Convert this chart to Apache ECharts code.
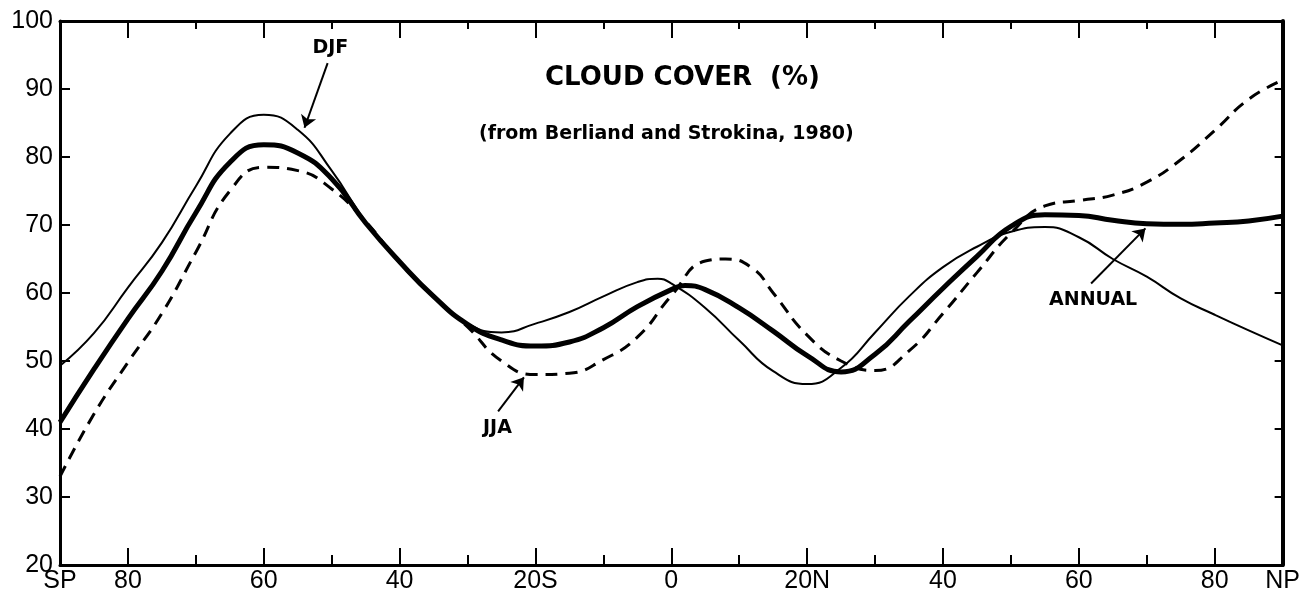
<!DOCTYPE html>
<html>
<head>
<meta charset="utf-8">
<script src="https://cdn.jsdelivr.net/npm/echarts@6/dist/echarts.min.js"></script>
<style>
html,body{margin:0;padding:0;background:#fff;}
#chart{width:1303px;height:595px;}
</style>
</head>
<body>
<div id="chart"></div>
<script>
// Latitude (negative = south) and cloud cover (%)
var djfLat = [-90,-85,-80,-75,-70,-65,-60,-55,-50,-45,-40,-35,-30,-25,-20,-15,-10,-5,-2,0,5,10,15,20,25,30,35,40,45,50,55,60,65,70,75,80,85,90];
var djfVal = [49.3,54.1,60.8,67.4,75.7,83.4,86.2,84.0,78.0,70.5,64.6,59.5,55.5,54.2,55.5,57.2,59.5,61.6,62.1,61.4,57.8,53.0,48.5,46.6,49.0,54.2,59.5,63.8,66.8,69.0,69.7,68.2,65.0,62.4,59.2,56.8,54.5,52.3];

var annLat = [-90,-85,-80,-75,-70,-65,-60,-55,-50,-45,-40,-35,-30,-25,-20,-15,-10,-5,0,2,5,10,15,20,25,30,35,40,45,50,55,60,65,70,75,80,85,90];
var annVal = [41.0,48.8,56.2,63.2,71.8,79.2,81.8,80.6,76.8,70.3,64.6,59.5,55.4,53.1,52.2,52.8,54.9,58.0,60.5,61.1,60.5,57.8,54.4,50.8,48.4,51.0,55.8,60.7,65.4,69.8,71.5,71.4,70.7,70.2,70.1,70.3,70.6,71.3];

var jjaLat = [-90,-85,-80,-75,-70,-65,-60,-55,-50,-45,-40,-35,-30,-25,-20,-15,-10,-5,0,5,8,12,15,20,25,30,35,40,45,50,55,60,65,70,75,80,85,90];
var jjaVal = [33.0,42.2,49.8,57.0,66.0,75.0,78.5,78.0,75.3,70.5,64.5,59.5,55.0,50.0,48.0,48.2,50.2,53.5,59.6,64.7,65.0,63.6,60.0,53.8,50.0,48.6,51.5,57.0,63.0,68.8,72.8,73.6,74.4,76.3,79.6,83.9,88.5,91.3];

var yTicks = [20,30,40,50,60,70,80,90,100];
var xLabelValues = [-90,-80,-60,-40,-20,0,20,40,60,80,90];
var xLabelText = ['SP','80','60','40','20S','0','20N','40','60','80','NP'];
var xMajorTicks = [-80,-60,-40,-20,0,20,40,60,80];
var xMinorTicks = [-70,-50,-30,-10,10,30,50,70];

var titleText = 'CLOUD COVER  (%)';
var subtitleText = '(from Berliand and Strokina, 1980)';

// annotation label positions and arrows, in data coordinates [lat, value]
var djfNote = {text:'DJF', at:[-50.2,96.0], from:[-50.6,93.8], to:[-54.0,84.3]};
var jjaNote = {text:'JJA', at:[-25.6,40.2], from:[-25.5,42.6], to:[-21.7,47.6]};
var annNote = {text:'ANNUAL', at:[62.1,58.9], from:[61.8,61.4], to:[69.8,69.5]};

function zip(a,b){return a.map(function(v,i){return [v,b[i]];});}

var axisFont = {fontFamily:'Liberation Sans', fontSize:25, color:'#000'};
var lineStyleAxis = {color:'#000', width:3};

function note(n){
  return {
    markLine:{
      silent:true, symbol:['none','arrow'], symbolSize:12,
      lineStyle:{color:'#000', width:2, type:'solid'},
      label:{show:false},
      data:[[{coord:n.from},{coord:n.to}]]
    },
    markPoint:{
      silent:true, symbol:'circle', symbolSize:0,
      label:{show:true, formatter:n.text, color:'#000', fontFamily:'DejaVu Sans', fontWeight:'bold', fontSize:19, position:'inside'},
      data:[{coord:n.at}]
    }
  };
}

var chart = echarts.init(document.getElementById('chart'), null, {renderer:'canvas'});

var sDJF = Object.assign({
  name:'DJF', type:'line', smooth:0.5, symbol:'none', data:zip(djfLat,djfVal),
  lineStyle:{color:'#000', width:2}, z:3
}, note(djfNote));
var sANN = Object.assign({
  name:'ANNUAL', type:'line', smooth:0.5, symbol:'none', data:zip(annLat,annVal),
  lineStyle:{color:'#000', width:5}, z:4
}, note(annNote));
var sJJA = Object.assign({
  name:'JJA', type:'line', smooth:0.5, symbol:'none', data:zip(jjaLat,jjaVal),
  lineStyle:{color:'#000', width:3, type:[12,8]}, z:2
}, note(jjaNote));

chart.setOption({
  backgroundColor:'#fff',
  animation:false,
  title:[
    {text:titleText, left:540, top:60, textStyle:{fontFamily:'DejaVu Sans', fontWeight:'bold', fontSize:26, color:'#000'}},
    {text:subtitleText, left:474, top:120, textStyle:{fontFamily:'DejaVu Sans', fontWeight:'bold', fontSize:19, color:'#000'}}
  ],
  grid:{left:60, right:14, top:21, bottom:30, containLabel:false},
  xAxis:[
    {type:'value', min:-90, max:90, position:'bottom',
     axisLine:{show:true, onZero:false, lineStyle:lineStyleAxis},
     axisTick:{show:true, inside:true, length:17, lineStyle:{color:'#000', width:2}, customValues:xMajorTicks},
     axisLabel:Object.assign({show:true, margin:4, customValues:xLabelValues,
       formatter:function(v){var i=xLabelValues.indexOf(v);return i>=0?xLabelText[i]:'';}}, axisFont),
     splitLine:{show:false}},
    {type:'value', min:-90, max:90, position:'bottom',
     axisLine:{show:false, onZero:false},
     axisTick:{show:true, inside:true, length:10, lineStyle:{color:'#000', width:2}, customValues:xMinorTicks},
     axisLabel:{show:false}, splitLine:{show:false}},
    {type:'value', min:-90, max:90, position:'top',
     axisLine:{show:true, onZero:false, lineStyle:lineStyleAxis},
     axisTick:{show:true, inside:true, length:17, lineStyle:{color:'#000', width:2}, customValues:xMajorTicks},
     axisLabel:{show:false}, splitLine:{show:false}},
    {type:'value', min:-90, max:90, position:'top',
     axisLine:{show:false, onZero:false},
     axisTick:{show:true, inside:true, length:8, lineStyle:{color:'#000', width:2}, customValues:xMinorTicks},
     axisLabel:{show:false}, splitLine:{show:false}}
  ],
  yAxis:[
    {type:'value', min:20, max:100, interval:10, position:'left',
     axisLine:{show:true, onZero:false, lineStyle:lineStyleAxis},
     axisTick:{show:true, inside:true, length:10, lineStyle:{color:'#000', width:2}},
     axisLabel:Object.assign({show:true, margin:7}, axisFont),
     splitLine:{show:false}},
    {type:'value', min:20, max:100, interval:10, position:'right',
     axisLine:{show:true, onZero:false, lineStyle:{color:'#000', width:4}},
     axisTick:{show:true, inside:true, length:8, lineStyle:{color:'#000', width:2}},
     axisLabel:{show:false}, splitLine:{show:false}}
  ],
  series:[sJJA, sDJF, sANN]
});
</script>
</body>
</html>
